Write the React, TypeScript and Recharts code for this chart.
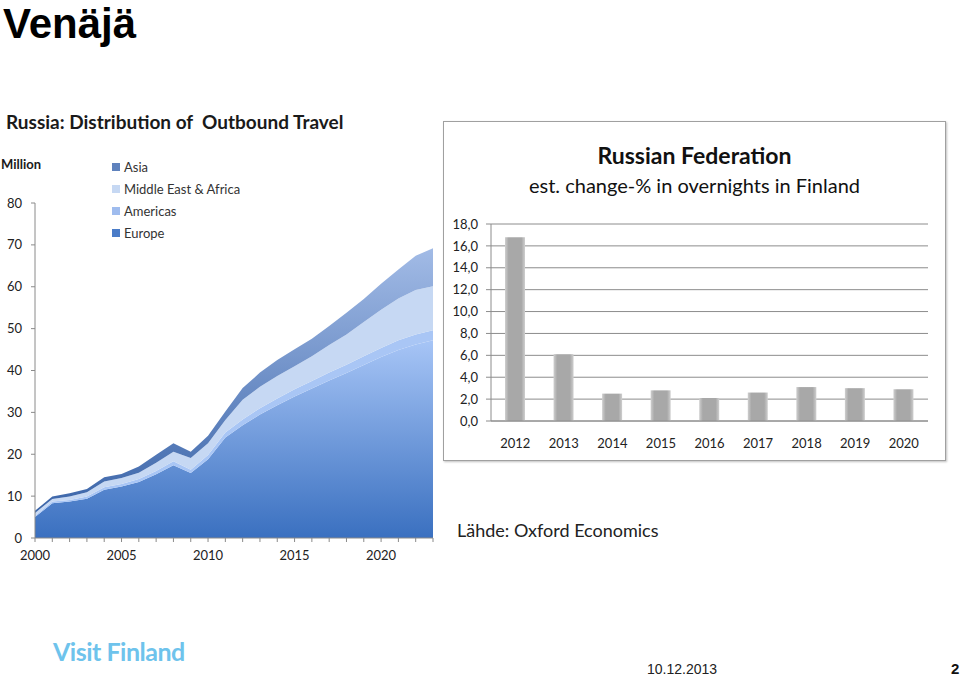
import React from "react";
import {
  AreaChart,
  Area,
  BarChart,
  Bar,
  XAxis,
  YAxis,
  CartesianGrid,
} from "recharts";

// Russia outbound travel, million trips (stacked)
const years = [
  2000, 2001, 2002, 2003, 2004, 2005, 2006, 2007, 2008, 2009, 2010, 2011,
  2012, 2013, 2014, 2015, 2016, 2017, 2018, 2019, 2020, 2021, 2022, 2023,
];
const europe = [
  5.0, 8.3, 8.7, 9.4, 11.5, 12.3, 13.4, 15.2, 17.4, 15.5, 18.8, 24.0, 26.9,
  29.5, 31.7, 33.8, 35.7, 37.6, 39.4, 41.3, 43.2, 44.9, 46.2, 47.2,
];
const americas = [
  0.3, 0.4, 0.4, 0.5, 0.6, 0.6, 0.7, 0.8, 0.9, 0.8, 1.0, 1.2, 1.4, 1.5, 1.6,
  1.7, 1.8, 1.9, 2.0, 2.1, 2.2, 2.3, 2.4, 2.4,
];
const middleEastAfrica = [
  0.7, 0.6, 0.8, 1.0, 1.4, 1.4, 1.5, 2.0, 2.3, 2.8, 2.8, 3.0, 4.7, 5.1, 5.4,
  5.5, 5.9, 6.6, 7.2, 8.2, 9.1, 10.0, 10.6, 10.5,
];
const asia = [
  0.5, 0.6, 0.8, 0.8, 1.0, 1.0, 1.5, 1.9, 2.0, 1.5, 1.8, 2.0, 2.8, 3.4, 3.8,
  4.1, 4.2, 4.5, 5.2, 5.5, 6.2, 6.9, 8.2, 9.1,
];
const millionTicks = [0, 10, 20, 30, 40, 50, 60, 70, 80];
const yearLabels = [2000, 2005, 2010, 2015, 2020];

// Russian Federation, est. change-% in overnights in Finland
const fedYears = ["2012", "2013", "2014", "2015", "2016", "2017", "2018", "2019", "2020"];
const fedChange = [16.8, 6.1, 2.5, 2.8, 2.1, 2.6, 3.1, 3.0, 2.9];
const changeTicks = [0, 2, 4, 6, 8, 10, 12, 14, 16, 18];

const travelData = years.map((year, i) => ({
  year,
  europe: europe[i],
  americas: americas[i],
  mea: middleEastAfrica[i],
  asia: asia[i],
}));

const fedData = fedYears.map((year, i) => ({ year, change: fedChange[i] }));

const font = "Lato, 'Open Sans', sans-serif";
const arial = "'Liberation Sans', Arial, sans-serif";
const tickStyle = { fontSize: 13, fill: "#222", fontFamily: font };

const legendItems = [
  { name: "Asia", color: "#5f82bd" },
  { name: "Middle East & Africa", color: "#c6d8f3" },
  { name: "Americas", color: "#9fbcee" },
  { name: "Europe", color: "#4a7cc8" },
];

const YearTick = (props: any) => {
  const { x, y, payload } = props;
  if (!yearLabels.includes(payload.value)) return null;
  return (
    <text x={x} y={y + 16} textAnchor="middle" {...tickStyle}>
      {payload.value}
    </text>
  );
};

const App = () => {
  return (
    <div
      style={{
        position: "relative",
        width: 960,
        height: 677,
        background: "#fff",
        fontFamily: font,
        color: "#1a1a1a",
      }}
    >
      <style>{"html,body{margin:0;padding:0;overflow:hidden;}"}</style>

      {/* slide texts drawn in one svg so baselines are exact */}
      <svg
        width={960}
        height={677}
        style={{ position: "absolute", left: 0, top: 0 }}
      >
        <text
          x={3}
          y={38}
          fontFamily={arial}
          fontWeight={700}
          fontSize={42}
          fill="#000"
        >
          Venäjä
        </text>
        <text x={647} y={674} fontFamily={arial} fontSize={14} fill="#222">
          10.12.2013
        </text>
        <text
          x={951}
          y={674}
          fontFamily={arial}
          fontSize={15}
          fontWeight={700}
          fill="#111"
        >
          2
        </text>
      </svg>

      <div
        style={{
          position: "absolute",
          left: 6,
          top: 110,
          fontWeight: 700,
          fontSize: 19,
          whiteSpace: "pre",
        }}
      >
        {"Russia: Distribution of  Outbound Travel"}
      </div>
      <div
        style={{
          position: "absolute",
          left: 1,
          top: 156,
          fontWeight: 700,
          fontSize: 13,
        }}
      >
        Million
      </div>

      {/* legend of the stacked area chart */}
      <div style={{ position: "absolute", left: 112, top: 156 }}>
        {legendItems.map((it) => (
          <div
            key={it.name}
            style={{
              display: "flex",
              alignItems: "center",
              height: 22,
              fontSize: 13,
              color: "#333",
            }}
          >
            <span
              style={{
                width: 8,
                height: 8,
                background: it.color,
                marginRight: 4,
                display: "inline-block",
              }}
            />
            {it.name}
          </div>
        ))}
      </div>

      <div style={{ position: "absolute", left: 0, top: 150 }}>
        <AreaChart
          width={445}
          height={430}
          data={travelData}
          margin={{ top: 53, right: 12, bottom: 12, left: 0 }}
        >
          <defs>
            <linearGradient id="gEurope" x1="0" y1="1" x2="0" y2="0">
              <stop offset="0%" stopColor="#3a70c0" />
              <stop offset="100%" stopColor="#a7c5f6" />
            </linearGradient>
            <linearGradient id="gAsia" x1="0" y1="1" x2="0" y2="0">
              <stop offset="0%" stopColor="#3a64a8" />
              <stop offset="100%" stopColor="#a2bbe6" />
            </linearGradient>
          </defs>
          <XAxis
            dataKey="year"
            type="number"
            domain={[2000, 2023]}
            ticks={years}
            interval={0}
            tick={<YearTick />}
            tickSize={4}
            height={30}
            stroke="#8a8a8a"
          />
          <YAxis
            domain={[0, 80]}
            ticks={millionTicks}
            width={35}
            tickSize={4}
            tickMargin={9}
            tick={tickStyle}
            stroke="#8a8a8a"
            interval={0}
          />
          <Area
            type="linear"
            dataKey="europe"
            stackId="1"
            stroke="none"
            fill="url(#gEurope)"
            fillOpacity={1}
            isAnimationActive={false}
          />
          <Area
            type="linear"
            dataKey="americas"
            stackId="1"
            stroke="none"
            fill="#a9c6f5"
            fillOpacity={1}
            isAnimationActive={false}
          />
          <Area
            type="linear"
            dataKey="mea"
            stackId="1"
            stroke="none"
            fill="#c6d8f3"
            fillOpacity={1}
            isAnimationActive={false}
          />
          <Area
            type="linear"
            dataKey="asia"
            stackId="1"
            stroke="none"
            fill="url(#gAsia)"
            fillOpacity={1}
            isAnimationActive={false}
          />
        </AreaChart>
      </div>

      {/* Russian Federation box */}
      <div
        style={{
          position: "absolute",
          left: 443,
          top: 121,
          width: 501,
          height: 338,
          border: "1px solid #a0a0a0",
          boxShadow: "1px 1px 2px rgba(0,0,0,0.25)",
          background: "#fff",
        }}
      >
        <div
          style={{
            position: "absolute",
            left: 0,
            width: 501,
            top: 19,
            textAlign: "center",
            fontWeight: 700,
            fontSize: 23,
            color: "#111",
          }}
        >
          Russian Federation
        </div>
        <div
          style={{
            position: "absolute",
            left: 0,
            width: 501,
            top: 51,
            textAlign: "center",
            fontSize: 20,
            color: "#111",
          }}
        >
          est. change-% in overnights in Finland
        </div>
        <BarChart
          width={501}
          height={338}
          data={fedData}
          margin={{ top: 102, right: 17, bottom: 14, left: 0 }}
        >
          <defs>
            <linearGradient id="gBar" x1="0" y1="0" x2="1" y2="0">
              <stop offset="0%" stopColor="#cfcfcf" />
              <stop offset="18%" stopColor="#a8a8a8" />
              <stop offset="82%" stopColor="#a8a8a8" />
              <stop offset="100%" stopColor="#cfcfcf" />
            </linearGradient>
          </defs>
          <CartesianGrid vertical={false} stroke="#8c8c8c" />
          <XAxis
            dataKey="year"
            tickLine={false}
            tick={tickStyle}
            tickMargin={12}
            height={25}
            stroke="#8c8c8c"
            interval={0}
          />
          <YAxis
            domain={[0, 18]}
            ticks={changeTicks}
            interval={0}
            width={47}
            tickSize={5}
            tickMargin={8}
            tick={tickStyle}
            stroke="#8c8c8c"
            tickFormatter={(v: number) => v.toFixed(1).replace(".", ",")}
          />
          <Bar
            dataKey="change"
            fill="url(#gBar)"
            barSize={20}
            isAnimationActive={false}
          />
        </BarChart>
      </div>

      <div
        style={{
          position: "absolute",
          left: 457,
          top: 519,
          fontSize: 18,
          color: "#222",
        }}
      >
        Lähde: Oxford Economics
      </div>
      <div
        style={{
          position: "absolute",
          left: 53,
          top: 636,
          fontSize: 25,
          fontWeight: 700,
          letterSpacing: -0.5,
          color: "#6ec3ec",
        }}
      >
        Visit Finland
      </div>
    </div>
  );
};

export default App;
